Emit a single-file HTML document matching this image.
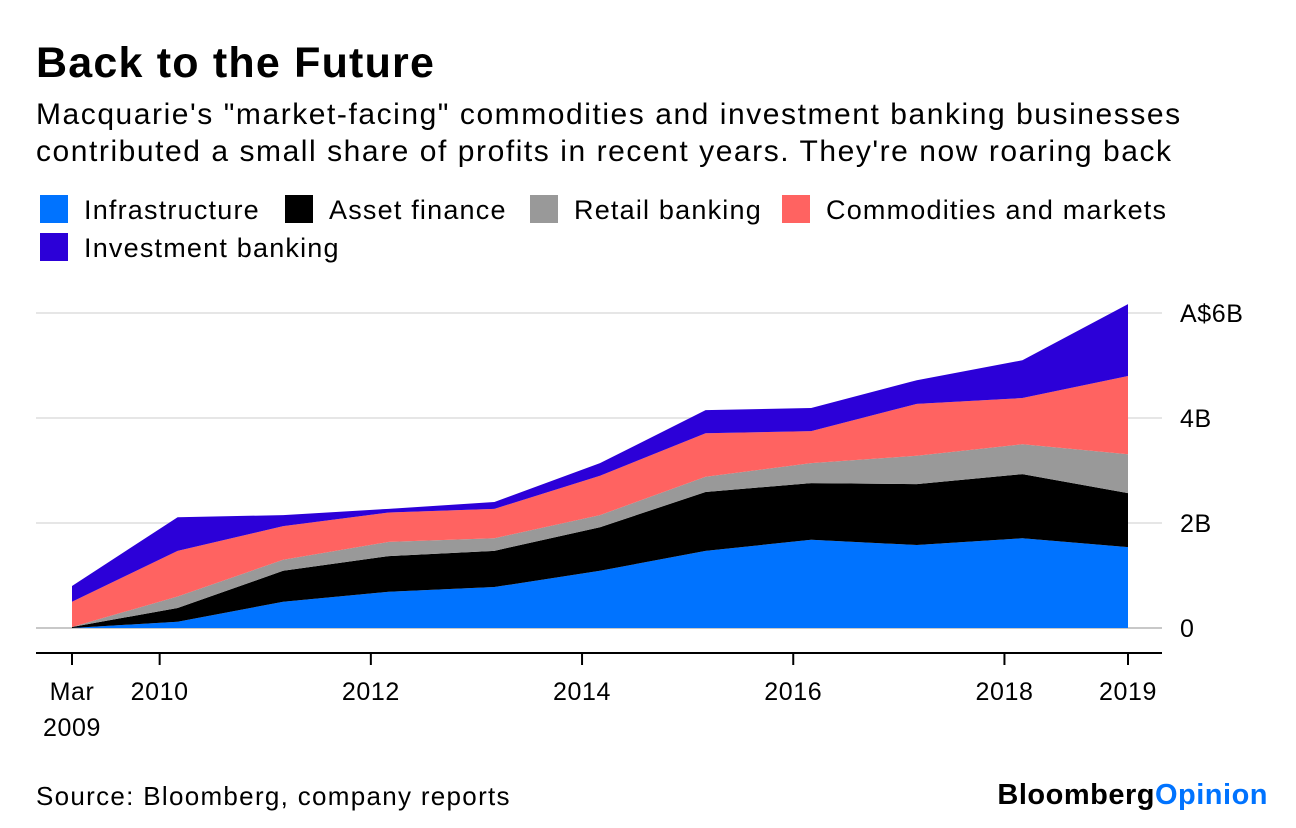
<!DOCTYPE html>
<html><head><meta charset="utf-8"><style>
body{margin:0;width:1296px;height:828px;background:#fff;font-family:"Liberation Sans",sans-serif;overflow:hidden;position:relative}
.t{position:absolute;white-space:nowrap}
</style></head><body>
<div class="t" style="left:36px;top:39px;font-size:43px;font-weight:bold;letter-spacing:1.2px">Back to the Future</div>
<div class="t" style="left:36px;top:96px;font-size:30px;line-height:37px;letter-spacing:1.55px">Macquarie's "market-facing" commodities and investment banking businesses<br>contributed a small share of profits in recent years. They're now roaring back</div>
<svg id="c" width="1296" height="828" style="position:absolute;left:0;top:0"></svg>
<div class="t" style="left:36px;top:781px;font-size:26px;letter-spacing:1.3px">Source: Bloomberg, company reports</div>
<div class="t" style="right:28px;top:779px;font-size:29px;font-weight:bold;letter-spacing:0.5px">Bloomberg<span style="color:#0073ff">Opinion</span></div>
<script>
const xLabels=["Mar 2009","2010","2012","2014","2016","2018","2019"];
const xTickYears=[2009.2,2010.03,2012.03,2014.03,2016.03,2018.03,2019.2];
const years=[2009.2,2010.2,2011.2,2012.2,2013.2,2014.2,2015.2,2016.2,2017.2,2018.2,2019.2];
const infrastructure=[0,0.12,0.5,0.69,0.78,1.09,1.47,1.68,1.58,1.71,1.54];
const assetFinance=[0.02,0.26,0.59,0.68,0.69,0.83,1.12,1.08,1.16,1.22,1.03];
const retailBanking=[0,0.22,0.21,0.27,0.24,0.23,0.29,0.38,0.54,0.57,0.74];
const commodities=[0.48,0.87,0.64,0.56,0.56,0.75,0.83,0.61,0.99,0.88,1.49];
const investmentBanking=[0.3,0.64,0.21,0.07,0.13,0.24,0.44,0.44,0.45,0.72,1.37];
const yTicks=[0,2,4,6];
const yTickLabels=["0","2B","4B","A$6B"];
const seriesNames=["Infrastructure","Asset finance","Retail banking","Commodities and markets","Investment banking"];
const seriesColors=["#0073ff","#000000","#999999","#ff6361","#2c00d8"];
const NS="http://www.w3.org/2000/svg";
const svg=document.getElementById('c');
const X=y=>72+(y-2009.2)*105.6;
const Y=v=>628-v*52.5;
function mk(t,a,p){const e=document.createElementNS(NS,t);for(const k in a)e.setAttribute(k,a[k]);(p||svg).appendChild(e);return e;}
yTicks.forEach((v,i)=>{
 const l=mk('line',{x1:36,x2:1162,y1:Y(v),y2:Y(v),stroke:v===0?'#c8c8c8':'#e6e6e6','stroke-width':2});
 
 
 const t=mk('text',{x:1180,y:Y(v)+9,'font-size':25,'letter-spacing':0.6,fill:'#000'});
 t.textContent=yTickLabels[i];
 
 
});
const series=[infrastructure,assetFinance,retailBanking,commodities,investmentBanking];
let base=years.map(()=>0);
series.forEach((s,si)=>{
 const top=base.map((b,i)=>b+s[i]);
 let d='M'+years.map((y,i)=>X(y)+','+Y(top[i])).join('L');
 for(let i=years.length-1;i>=0;i--)d+='L'+X(years[i])+','+Y(base[i]);
 const p=mk('path',{d:d+'Z',fill:seriesColors[si]});
 
 
 base=top;
});
const ax=mk('line',{x1:36,x2:1162,y1:653,y2:653,stroke:'#000','stroke-width':2});


xTickYears.forEach((y,i)=>{
 const tk=mk('line',{x1:X(y),x2:X(y),y1:653,y2:665,stroke:'#000','stroke-width':2});
 
 
 const parts=xLabels[i].split(' ');
 parts.forEach((pt,j)=>{
  const t=mk('text',{x:X(y),y:700+j*36,'font-size':25,'letter-spacing':0.6,'text-anchor':'middle'});
  t.textContent=pt;
  
  
 });
});
const legPos=[[40,195],[285,195],[530,195],[782,195],[40,233]];
seriesNames.forEach((n,i)=>{
 const g=mk('g',{});
 
 
 mk('rect',{x:legPos[i][0],y:legPos[i][1],width:28,height:28,fill:seriesColors[i]},g);
 const t=mk('text',{x:legPos[i][0]+44,y:legPos[i][1]+24,'font-size':27,'letter-spacing':1.2},g);
 t.textContent=n;
});
</script>
</body></html>
